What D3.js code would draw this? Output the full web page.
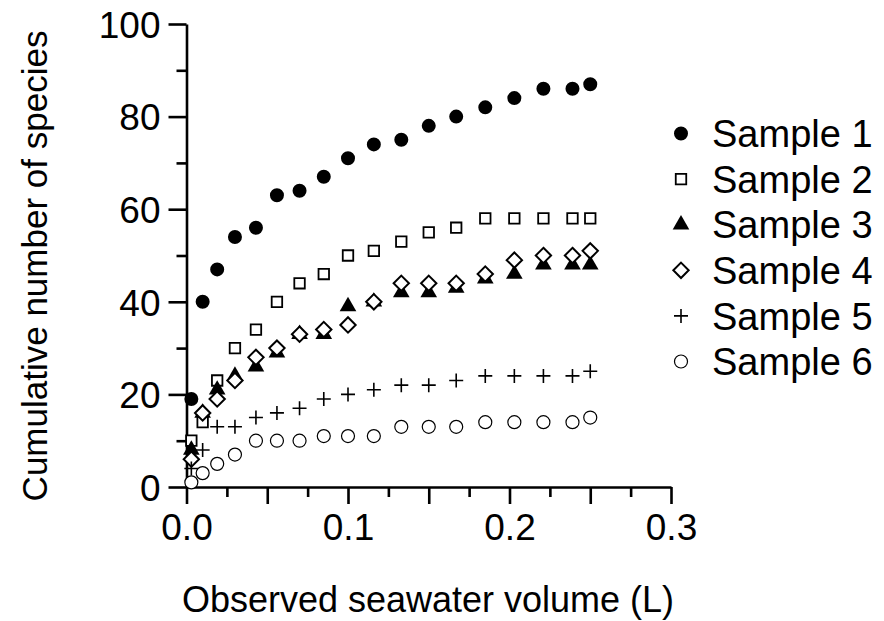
<!DOCTYPE html>
<html>
<head>
<meta charset="utf-8">
<script src="https://cdn.jsdelivr.net/npm/d3@7"></script>
<style>
  body { margin: 0; background: #fff; }
  text { font-family: "Liberation Sans", Arial, sans-serif; fill: #000; }
</style>
</head>
<body>
<svg width="884" height="621"></svg>
<script>
// ### Data ###
var volumes = [0.003, 0.010, 0.019, 0.030, 0.043, 0.056, 0.070, 0.085, 0.100,
               0.116, 0.133, 0.150, 0.167, 0.185, 0.203, 0.221, 0.239, 0.250];
var sample1 = [19, 40, 47, 54, 56, 63, 64, 67, 71, 74, 75, 78, 80, 82, 84, 86, 86, 87];
var sample2 = [10, 14, 23, 30, 34, 40, 44, 46, 50, 51, 53, 55, 56, 58, 58, 58, 58, 58];
var sample3 = [8, 16, 21, 24, 26, 29, 33, 33, 39, 40, 42, 42, 43, 45, 46, 48, 48, 48];
var sample4 = [6, 16, 19, 23, 28, 30, 33, 34, 35, 40, 44, 44, 44, 46, 49, 50, 50, 51];
var sample5 = [4, 8, 13, 13, 15, 16, 17, 19, 20, 21, 22, 22, 23, 24, 24, 24, 24, 25];
var sample6 = [1, 3, 5, 7, 10, 10, 10, 11, 11, 11, 13, 13, 13, 14, 14, 14, 14, 15];
var seriesNames = ['Sample 1', 'Sample 2', 'Sample 3', 'Sample 4', 'Sample 5', 'Sample 6'];
var xTickLabels = [0, 0.1, 0.2, 0.3];
var yTickLabels = [0, 20, 40, 60, 80, 100];

var allSeries = [sample1, sample2, sample3, sample4, sample5, sample6];

// marker style per series
var markers = [
  {type: d3.symbolCircle, size: 154, fill: '#000', stroke: 'none', sw: 0},
  {type: d3.symbolSquare, size: 110, fill: '#fff', stroke: '#000', sw: 1.8},
  {type: d3.symbolTriangle, size: 120, fill: '#000', stroke: 'none', sw: 0},
  {type: d3.symbolDiamond2, size: 150, fill: '#fff', stroke: '#000', sw: 2},
  {type: d3.symbolCross, size: 0, fill: 'none', stroke: '#000', sw: 1.6},
  {type: d3.symbolCircle, size: 133, fill: '#fff', stroke: '#000', sw: 1.2}
];

var svg = d3.select('svg');

// ### Scales ###
var xScale = d3.scaleLinear().domain([0, 0.3]).range([186.5, 671]);
var yScale = d3.scaleLinear().domain([0, 100]).range([487, 24]);

// ### Axes ###
var axisW = 2.6;
var fontSize = 37;

// y minor ticks
svg.append('g')
  .attr('transform', 'translate(186.5,0)')
  .call(d3.axisLeft(yScale).tickValues(d3.range(10, 100, 20)).tickSize(10).tickFormat(''))
  .call(g => g.select('.domain').remove())
  .call(g => g.selectAll('line').attr('stroke-width', axisW));

// y major ticks
var yAxis = svg.append('g')
  .attr('transform', 'translate(186.5,0)')
  .call(d3.axisLeft(yScale).tickValues(yTickLabels).tickSize(18).tickSizeOuter(0).tickPadding(8))
  .call(g => g.selectAll('line').attr('stroke-width', axisW))
  .call(g => g.select('.domain').attr('stroke-width', axisW));
yAxis.selectAll('text')
  .style('font-size', fontSize + 'px')
  .style('font-family', '"Liberation Sans", Arial, sans-serif')
  .attr('dy', '0.36em');

// x minor ticks
svg.append('g')
  .attr('transform', 'translate(0,487)')
  .call(d3.axisBottom(xScale).tickValues(d3.range(0.025, 0.3, 0.05)).tickSize(10).tickFormat(''))
  .call(g => g.select('.domain').remove())
  .call(g => g.selectAll('line').attr('stroke-width', axisW));

// x major ticks (every 0.05, labels at 0.1 steps)
var xAxis = svg.append('g')
  .attr('transform', 'translate(0,487)')
  .call(d3.axisBottom(xScale).tickValues(d3.range(0, 0.3001, 0.05)).tickSize(17).tickSizeOuter(0).tickPadding(9)
    .tickFormat(d => xTickLabels.some(v => Math.abs(v - d) < 1e-6) ? d3.format('.1f')(d) : ''))
  .call(g => g.selectAll('line').attr('stroke-width', axisW))
  .call(g => g.select('.domain').attr('stroke-width', axisW));
xAxis.selectAll('text')
  .style('font-size', fontSize + 'px')
  .style('font-family', '"Liberation Sans", Arial, sans-serif')
  .attr('dy', '0.72em');

// ### Axis titles ###
svg.append('text')
  .attr('x', 428)
  .attr('y', 612)
  .attr('text-anchor', 'middle')
  .style('font-size', '36px')
  .text('Observed seawater volume (L)');

svg.append('text')
  .attr('transform', 'translate(47,266) rotate(-90)')
  .attr('text-anchor', 'middle')
  .style('font-size', '35px')
  .text('Cumulative number of species');

// ### Points ###
function markerPath(m) {
  if (m.type === d3.symbolCross) {
    return 'M-7,0H7M0,-7V7';
  }
  return d3.symbol().type(m.type).size(m.size)();
}

allSeries.forEach(function(vals, i) {
  var m = markers[i];
  svg.append('g')
    .selectAll('path')
    .data(vals)
    .enter()
    .append('path')
    .attr('transform', (d, j) => `translate(${xScale(volumes[j])},${yScale(d)})`)
    .attr('d', markerPath(m))
    .attr('fill', m.fill)
    .attr('stroke', m.stroke)
    .attr('stroke-width', m.sw);
});

// ### Legend ###
var legendY = d3.scaleLinear().domain([0, 5]).range([133.5, 361.5]);
var legend = svg.append('g');
seriesNames.forEach(function(name, i) {
  var m = markers[i];
  legend.append('path')
    .attr('transform', `translate(681,${legendY(i)})`)
    .attr('d', markerPath(m))
    .attr('fill', m.fill)
    .attr('stroke', m.stroke)
    .attr('stroke-width', m.sw);
  legend.append('text')
    .attr('x', 712)
    .attr('y', legendY(i))
    .attr('dy', '0.36em')
    .style('font-size', '38px')
    .text(name);
});
</script>
</body>
</html>
